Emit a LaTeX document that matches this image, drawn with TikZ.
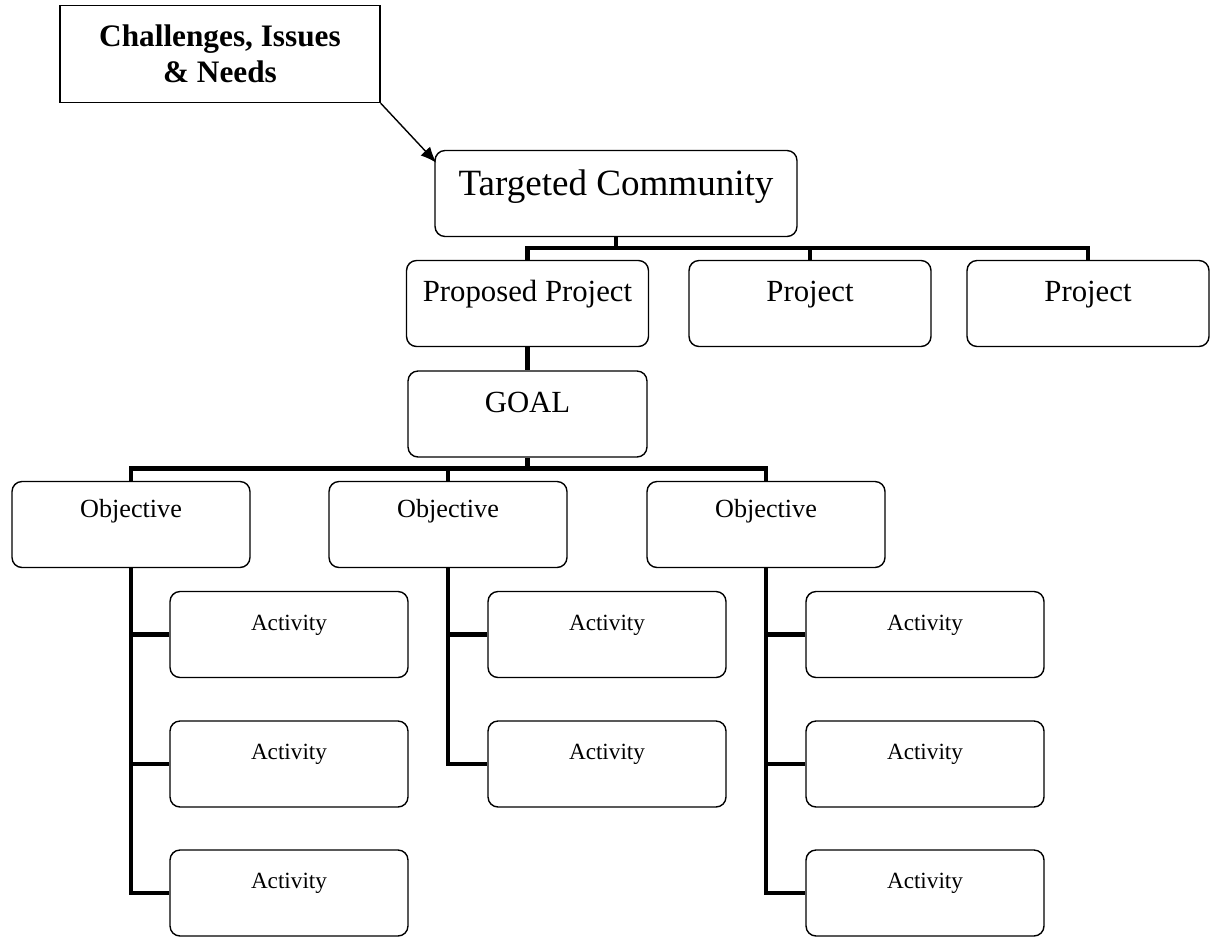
\documentclass[tikz,border=0pt]{standalone}
\usepackage{fontspec}
\setmainfont{Liberation Serif}
\usetikzlibrary{arrows.meta}

\tikzset{
	box/.style={draw, line width=0.8pt, rounded corners=0.2cm, inner sep=0pt, minimum height=1.72cm},
	commbox/.style={box, minimum width=7.24cm, font=\fontsize{21.1}{25}\selectfont, text height=0.56cm, text depth=0.5cm},
	projbox/.style={box, minimum width=4.84cm, font=\fontsize{17.5}{21}\selectfont, text height=0.48cm, text depth=0.56cm},
	objbox/.style={box, minimum width=4.76cm, font=\fontsize{14.9}{18}\selectfont, text height=0.4cm, text depth=0.7cm},
	actbox/.style={box, minimum width=4.76cm, font=\fontsize{13.2}{16}\selectfont, text height=0.34cm, text depth=0.52cm},
	link/.style={line width=2.6pt},
	pointer/.style={line width=0.8pt, -{Latex[length=0.32cm, width=0.26cm]}}
}

\begin{document}
\begin{tikzpicture}[x=0.02cm, y=-0.02cm]
	\useasboundingbox (0,0) rectangle (1216,936);

	% top of the tree
	\node [draw, line width=0.8pt, inner sep=0pt, minimum width=6.4cm, minimum height=1.94cm, align=center, font=\bfseries\fontsize{17.8}{20.5}\selectfont] (needs) at (220,54) {Challenges, Issues\\ \& Needs};
	\node [commbox] (comm) at (616,193.5) {Targeted Community};

	\node [projbox] (prop) at (527.5,303.5) {Proposed Project};
	\node [projbox] (proj2) at (810,303.5) {Project};
	\node [projbox] (proj3) at (1088,303.5) {Project};

	\node [projbox, minimum width=4.78cm] (goal) at (527.5,414) {GOAL};

	% objectives
	\node [objbox] (obj1) at (131,524.5) {Objective};
	\node [objbox] (obj2) at (448,524.5) {Objective};
	\node [objbox] (obj3) at (766,524.5) {Objective};

	% activities
	\node [actbox] (act11) at (289,634.5) {Activity};
	\node [actbox] (act12) at (289,764) {Activity};
	\node [actbox] (act13) at (289,893) {Activity};
	\node [actbox] (act21) at (607,634.5) {Activity};
	\node [actbox] (act22) at (607,764) {Activity};
	\node [actbox] (act31) at (925,634.5) {Activity};
	\node [actbox] (act32) at (925,764) {Activity};
	\node [actbox] (act33) at (925,893) {Activity};

	% connectors
	\draw [pointer] (needs.south east) -- ([shift={(2,13)}]comm.north west);

	\draw [link] (comm.south) -- ++(0,11) coordinate (bus1);
	\draw [link] (prop.north) |- (bus1) -| (proj3.north);
	\draw [link] (proj2.north) -- (proj2.north |- bus1);

	\draw [link] (prop.south) -- (goal.north);

	\draw [link] (goal.south) -- ++(0,11) coordinate (bus2);
	\draw [link] (obj1.north) |- (bus2) -| (obj3.north);
	\draw [link] (obj2.north) -- (obj2.north |- bus2);

	\draw [link] (obj1.south) |- (act13.west);
	\draw [link] (act11.west) -- (act11.west -| obj1.south);
	\draw [link] (act12.west) -- (act12.west -| obj1.south);

	\draw [link] (obj2.south) |- (act22.west);
	\draw [link] (act21.west) -- (act21.west -| obj2.south);

	\draw [link] (obj3.south) |- (act33.west);
	\draw [link] (act31.west) -- (act31.west -| obj3.south);
	\draw [link] (act32.west) -- (act32.west -| obj3.south);
\end{tikzpicture}
\end{document}
